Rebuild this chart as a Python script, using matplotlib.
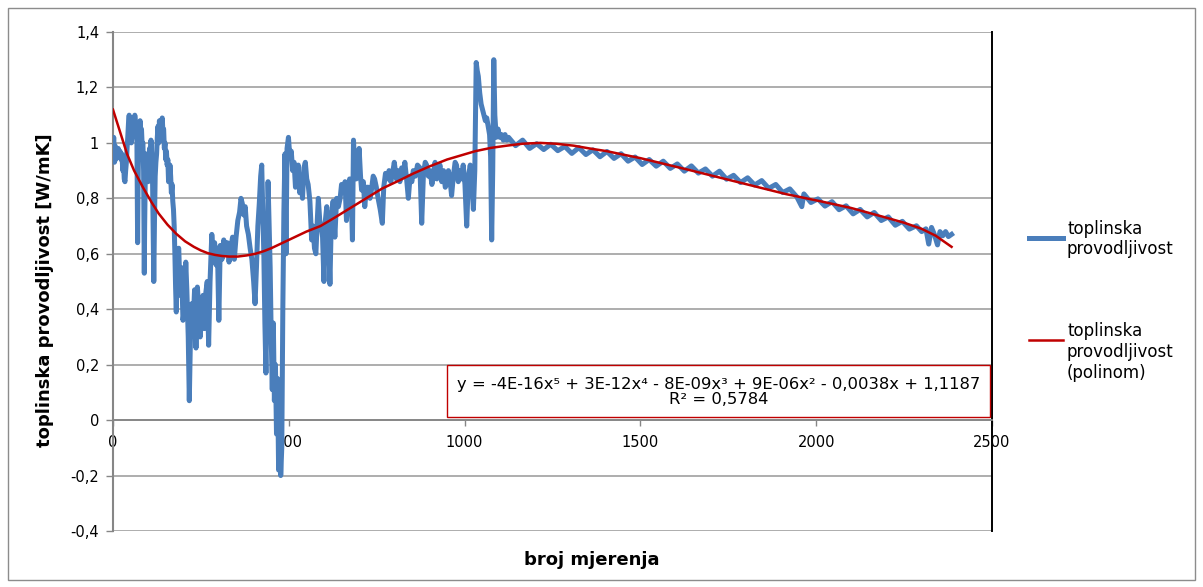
import matplotlib
matplotlib.use("Agg")
import matplotlib.pyplot as plt
from matplotlib.lines import Line2D
from matplotlib.patches import Rectangle

# measured series (broj mjerenja -> toplinska provodljivost)
blue_x = [0, 2, 4, 6, 8, 10, 13, 15, 18, 20, 23, 25, 28, 30, 32, 34, 36, 38, 40, 42,
          44, 46, 48, 50, 52, 54, 56, 58, 60, 62, 64, 66, 68, 70, 71, 73, 75, 77, 79, 81,
          83, 85, 87, 89, 90, 92, 94, 96, 98, 100, 102, 104, 106, 108, 110, 112, 114, 116, 118, 120,
          122, 124, 126, 128, 130, 132, 134, 136, 138, 140, 142, 144, 146, 148, 150, 152, 154, 156, 158, 160,
          162, 164, 166, 168, 170, 172, 174, 176, 178, 180, 183, 187, 191, 195, 199, 203, 207, 210, 214, 217,
          220, 224, 228, 232, 236, 240, 244, 248, 252, 256, 260, 264, 268, 272, 276, 281, 285, 289, 293, 297,
          301, 305, 310, 315, 320, 325, 330, 335, 340, 345, 350, 355, 360, 364, 368, 372, 376, 380, 385, 390,
          395, 400, 404, 408, 412, 416, 420, 423, 426, 429, 432, 435, 438, 441, 444, 447, 450, 453, 456, 459,
          462, 465, 468, 471, 474, 477, 480, 483, 486, 489, 492, 495, 499, 503, 507, 511, 515, 519, 523, 527,
          531, 535, 539, 543, 547, 551, 555, 560, 565, 569, 573, 577, 581, 584, 588, 592, 596, 600, 604, 608,
          612, 617, 621, 626, 631, 636, 641, 646, 650, 655, 660, 664, 668, 673, 677, 681, 684, 688, 692, 696,
          700, 704, 707, 712, 716, 721, 726, 731, 735, 740, 744, 749, 754, 760, 766, 770, 775, 780, 785, 790,
          795, 800, 806, 811, 816, 821, 826, 830, 835, 840, 845, 850, 854, 860, 866, 873, 878, 883, 888, 892,
          897, 902, 907, 911, 916, 921, 926, 930, 935, 940, 945, 949, 954, 959, 963, 968, 973, 977, 982, 987,
          991, 996, 1001, 1006, 1011, 1016, 1020, 1025, 1029, 1033, 1036, 1039, 1043, 1047, 1051, 1055, 1059, 1063, 1067, 1071,
          1074, 1077, 1080, 1083, 1086, 1090, 1095, 1100, 1105, 1110, 1115, 1120, 1125, 1145, 1165, 1185, 1205, 1225, 1245, 1265,
          1285, 1305, 1325, 1345, 1365, 1385, 1405, 1425, 1445, 1465, 1485, 1505, 1525, 1545, 1565, 1585, 1605, 1625,
          1645, 1665, 1685, 1705, 1725, 1745, 1765, 1785, 1805, 1825, 1845, 1865, 1885, 1905, 1925, 1945, 1959, 1965,
          1985, 2005, 2025, 2045, 2065, 2085, 2105, 2125, 2145, 2165, 2185, 2205, 2225, 2245, 2265, 2285, 2300, 2312,
          2320, 2328, 2336, 2345, 2352, 2360, 2368, 2376, 2385]
blue_y = [0.95, 1.02, 0.93, 0.99, 0.94, 0.97, 0.95, 0.98, 0.95, 0.97, 0.94, 0.96, 0.90, 0.93, 0.87, 0.86, 0.90, 0.93, 0.98, 1.02,
          1.07, 1.10, 1.04, 1.06, 1.00, 1.02, 1.06, 1.09, 1.04, 1.10, 1.07, 1.05, 1.01, 0.64, 0.80, 1.04, 1.00, 1.08, 1.02, 1.05,
          0.99, 1.00, 0.90, 0.53, 0.70, 0.90, 0.96, 0.95, 0.88, 0.86, 0.93, 0.98, 0.90, 1.01, 0.96, 0.92, 0.70, 0.50, 0.72, 0.88,
          0.93, 0.96, 1.02, 1.06, 1.00, 1.08, 1.03, 1.06, 1.01, 1.09, 1.04, 1.05, 0.98, 1.00, 0.94, 0.97, 0.92, 0.94, 0.86, 0.87,
          0.92, 0.88, 0.82, 0.85, 0.79, 0.76, 0.70, 0.60, 0.48, 0.39, 0.60, 0.62, 0.45, 0.55, 0.36, 0.40, 0.57, 0.47, 0.30, 0.07,
          0.28, 0.42, 0.35, 0.47, 0.26, 0.48, 0.40, 0.30, 0.38, 0.45, 0.33, 0.46, 0.50, 0.27, 0.50, 0.67, 0.60, 0.64, 0.56, 0.62,
          0.36, 0.63, 0.58, 0.65, 0.60, 0.64, 0.57, 0.62, 0.66, 0.58, 0.66, 0.72, 0.75, 0.80, 0.78, 0.74, 0.77, 0.70, 0.67, 0.62,
          0.58, 0.50, 0.42, 0.55, 0.70, 0.78, 0.88, 0.92, 0.75, 0.60, 0.35, 0.17, 0.45, 0.86, 0.70, 0.55, 0.30, 0.11, 0.35, 0.07,
          0.20, -0.05, 0.15, -0.18, 0.05, -0.20, -0.10, 0.40, 0.75, 0.96, 0.60, 0.98, 1.02, 0.95, 0.97, 0.90, 0.93, 0.84, 0.88, 0.92,
          0.82, 0.88, 0.80, 0.91, 0.93, 0.87, 0.85, 0.79, 0.65, 0.70, 0.62, 0.60, 0.72, 0.80, 0.72, 0.70, 0.66, 0.50, 0.72, 0.77,
          0.70, 0.49, 0.73, 0.79, 0.66, 0.80, 0.77, 0.80, 0.85, 0.83, 0.86, 0.72, 0.80, 0.87, 0.83, 0.65, 1.01, 0.90, 0.87, 0.92,
          0.98, 0.88, 0.83, 0.86, 0.77, 0.84, 0.84, 0.80, 0.83, 0.88, 0.87, 0.84, 0.80, 0.76, 0.71, 0.84, 0.89, 0.87, 0.90, 0.86,
          0.89, 0.93, 0.87, 0.90, 0.86, 0.91, 0.88, 0.93, 0.87, 0.80, 0.88, 0.86, 0.90, 0.88, 0.92, 0.91, 0.71, 0.89, 0.93, 0.92,
          0.88, 0.90, 0.85, 0.88, 0.93, 0.87, 0.90, 0.92, 0.86, 0.90, 0.84, 0.85, 0.90, 0.86, 0.81, 0.88, 0.93, 0.92, 0.86, 0.90,
          0.87, 0.92, 0.85, 0.70, 0.88, 0.92, 0.87, 0.76, 0.90, 1.29, 1.26, 1.24, 1.18, 1.14, 1.12, 1.10, 1.08, 1.09, 1.06, 1.03,
          0.95, 0.65, 0.90, 1.30, 1.10, 1.02, 1.05, 1.02, 1.03, 1.01, 1.03, 1.01, 1.02, 0.99, 1.01, 0.98, 0.997, 0.976, 0.995, 0.972,
          0.987, 0.962, 0.983, 0.958, 0.975, 0.950, 0.969, 0.944, 0.961, 0.934, 0.949, 0.922, 0.940, 0.916, 0.934, 0.908, 0.924, 0.898,
          0.917, 0.891, 0.906, 0.880, 0.898, 0.869, 0.883, 0.857, 0.874, 0.848, 0.864, 0.836, 0.850, 0.821, 0.834, 0.805, 0.77, 0.816,
          0.785, 0.798, 0.772, 0.788, 0.759, 0.773, 0.744, 0.760, 0.733, 0.749, 0.720, 0.733, 0.703, 0.717, 0.689, 0.701, 0.680, 0.690,
          0.635, 0.695, 0.670, 0.632, 0.680, 0.665, 0.680, 0.662, 0.670]

# polynomial trendline
trend_x = [0, 20, 40, 60, 85, 110, 130, 155, 180, 205, 230, 250, 270, 290, 310, 330, 355, 380, 405, 430,
           450, 475, 500, 550, 590, 630, 675, 720, 765, 815, 855, 900, 950, 990, 1030, 1075, 1120, 1165, 1215, 1260,
           1310, 1355, 1405, 1450, 1500, 1565, 1630, 1725, 1820, 1915, 2010, 2100, 2200, 2250, 2300, 2340, 2385]
trend_y = [1.12, 1.04, 0.96, 0.90, 0.84, 0.785, 0.745, 0.705, 0.672, 0.645, 0.625, 0.612, 0.602, 0.596, 0.592, 0.59, 0.59, 0.594, 0.60, 0.61,
           0.62, 0.635, 0.65, 0.68, 0.70, 0.73, 0.765, 0.80, 0.835, 0.865, 0.89, 0.915, 0.94, 0.955, 0.97, 0.982, 0.99, 0.997, 1.0, 0.997,
           0.99, 0.98, 0.97, 0.958, 0.945, 0.925, 0.905, 0.875, 0.845, 0.815, 0.79, 0.765, 0.73, 0.712, 0.69, 0.665, 0.625]

y_ticks = [-0.4, -0.2, 0, 0.2, 0.4, 0.6, 0.8, 1.0, 1.2, 1.4]
y_labels = ["-0,4", "-0,2", "0", "0,2", "0,4", "0,6", "0,8", "1", "1,2", "1,4"]
x_ticks = [0, 500, 1000, 1500, 2000, 2500]

W, H = 1203, 587
BLUE = "#4a7ebb"
RED = "#c00000"
GRID = "#a0a0a0"


def fx(px):
    return px / W


def fy(py):
    return 1 - py / H


fig = plt.figure(figsize=(W / 100, H / 100), dpi=100)
ax = fig.add_axes([fx(113), fy(531), fx(992) - fx(113), fy(32) - fy(531)])

ax.plot(blue_x, blue_y, color=BLUE, lw=3.6, zorder=3, solid_joinstyle="round")
ax.plot(trend_x, trend_y, color=RED, lw=1.8, zorder=4)

ax.set_xlim(0, 2500)
ax.set_ylim(-0.4, 1.4)
ax.set_yticks(y_ticks)
ax.set_yticklabels(y_labels)
ax.set_xticks(x_ticks)
ax.yaxis.grid(True, color=GRID, lw=1.2)
ax.set_axisbelow(True)

ax.spines["top"].set_visible(False)
ax.spines["bottom"].set_position(("data", 0))
ax.spines["bottom"].set_color("#868686")
ax.spines["bottom"].set_linewidth(1.3)
ax.spines["left"].set_color("#868686")
ax.spines["left"].set_linewidth(1.5)
ax.spines["right"].set_color("#000000")
ax.spines["right"].set_linewidth(1.4)

ax.tick_params(axis="y", direction="out", length=5, width=1, color="#868686", pad=5, labelsize=10.5)
ax.tick_params(axis="x", direction="out", length=4, width=1, color="#868686", pad=7, labelsize=10.5)

# axis titles placed like in the original sheet
fig.text(fx(592), fy(560), "broj mjerenja", ha="center", va="center", fontsize=13, fontweight="bold")
fig.text(fx(45), fy(290), "toplinska provodljivost [W/mK]", ha="center", va="center",
         rotation=90, fontsize=13, fontweight="bold")

# equation box
fig.add_artist(Rectangle((fx(447), fy(417)), fx(990) - fx(447), fy(365) - fy(417),
                         transform=fig.transFigure, facecolor="white", edgecolor=RED, lw=1.0, zorder=5))
fig.text(fx(719), fy(392),
         "y = -4E-16x\u2075 + 3E-12x\u2074 - 8E-09x\u00b3 + 9E-06x\u00b2 - 0,0038x + 1,1187\nR\u00b2 = 0,5784",
         ha="center", va="center", fontsize=11.8, linespacing=1.05, zorder=6)

# legend
fig.add_artist(Line2D([fx(1029), fx(1063)], [fy(238), fy(238)], color=BLUE, lw=3.6, transform=fig.transFigure))
fig.text(fx(1067), fy(239), "toplinska\nprovodljivost", ha="left", va="center", fontsize=12, linespacing=1.2)
fig.add_artist(Line2D([fx(1029), fx(1063)], [fy(340), fy(340)], color=RED, lw=1.8, transform=fig.transFigure))
fig.text(fx(1067), fy(352), "toplinska\nprovodljivost\n(polinom)", ha="left", va="center", fontsize=12, linespacing=1.2)

# chart border
fig.add_artist(Rectangle((fx(8), fy(580)), fx(1195) - fx(8), fy(8) - fy(580),
                         transform=fig.transFigure, fill=False, edgecolor="#8c8c8c", lw=1.0))

fig.savefig("out.png", dpi=100)
